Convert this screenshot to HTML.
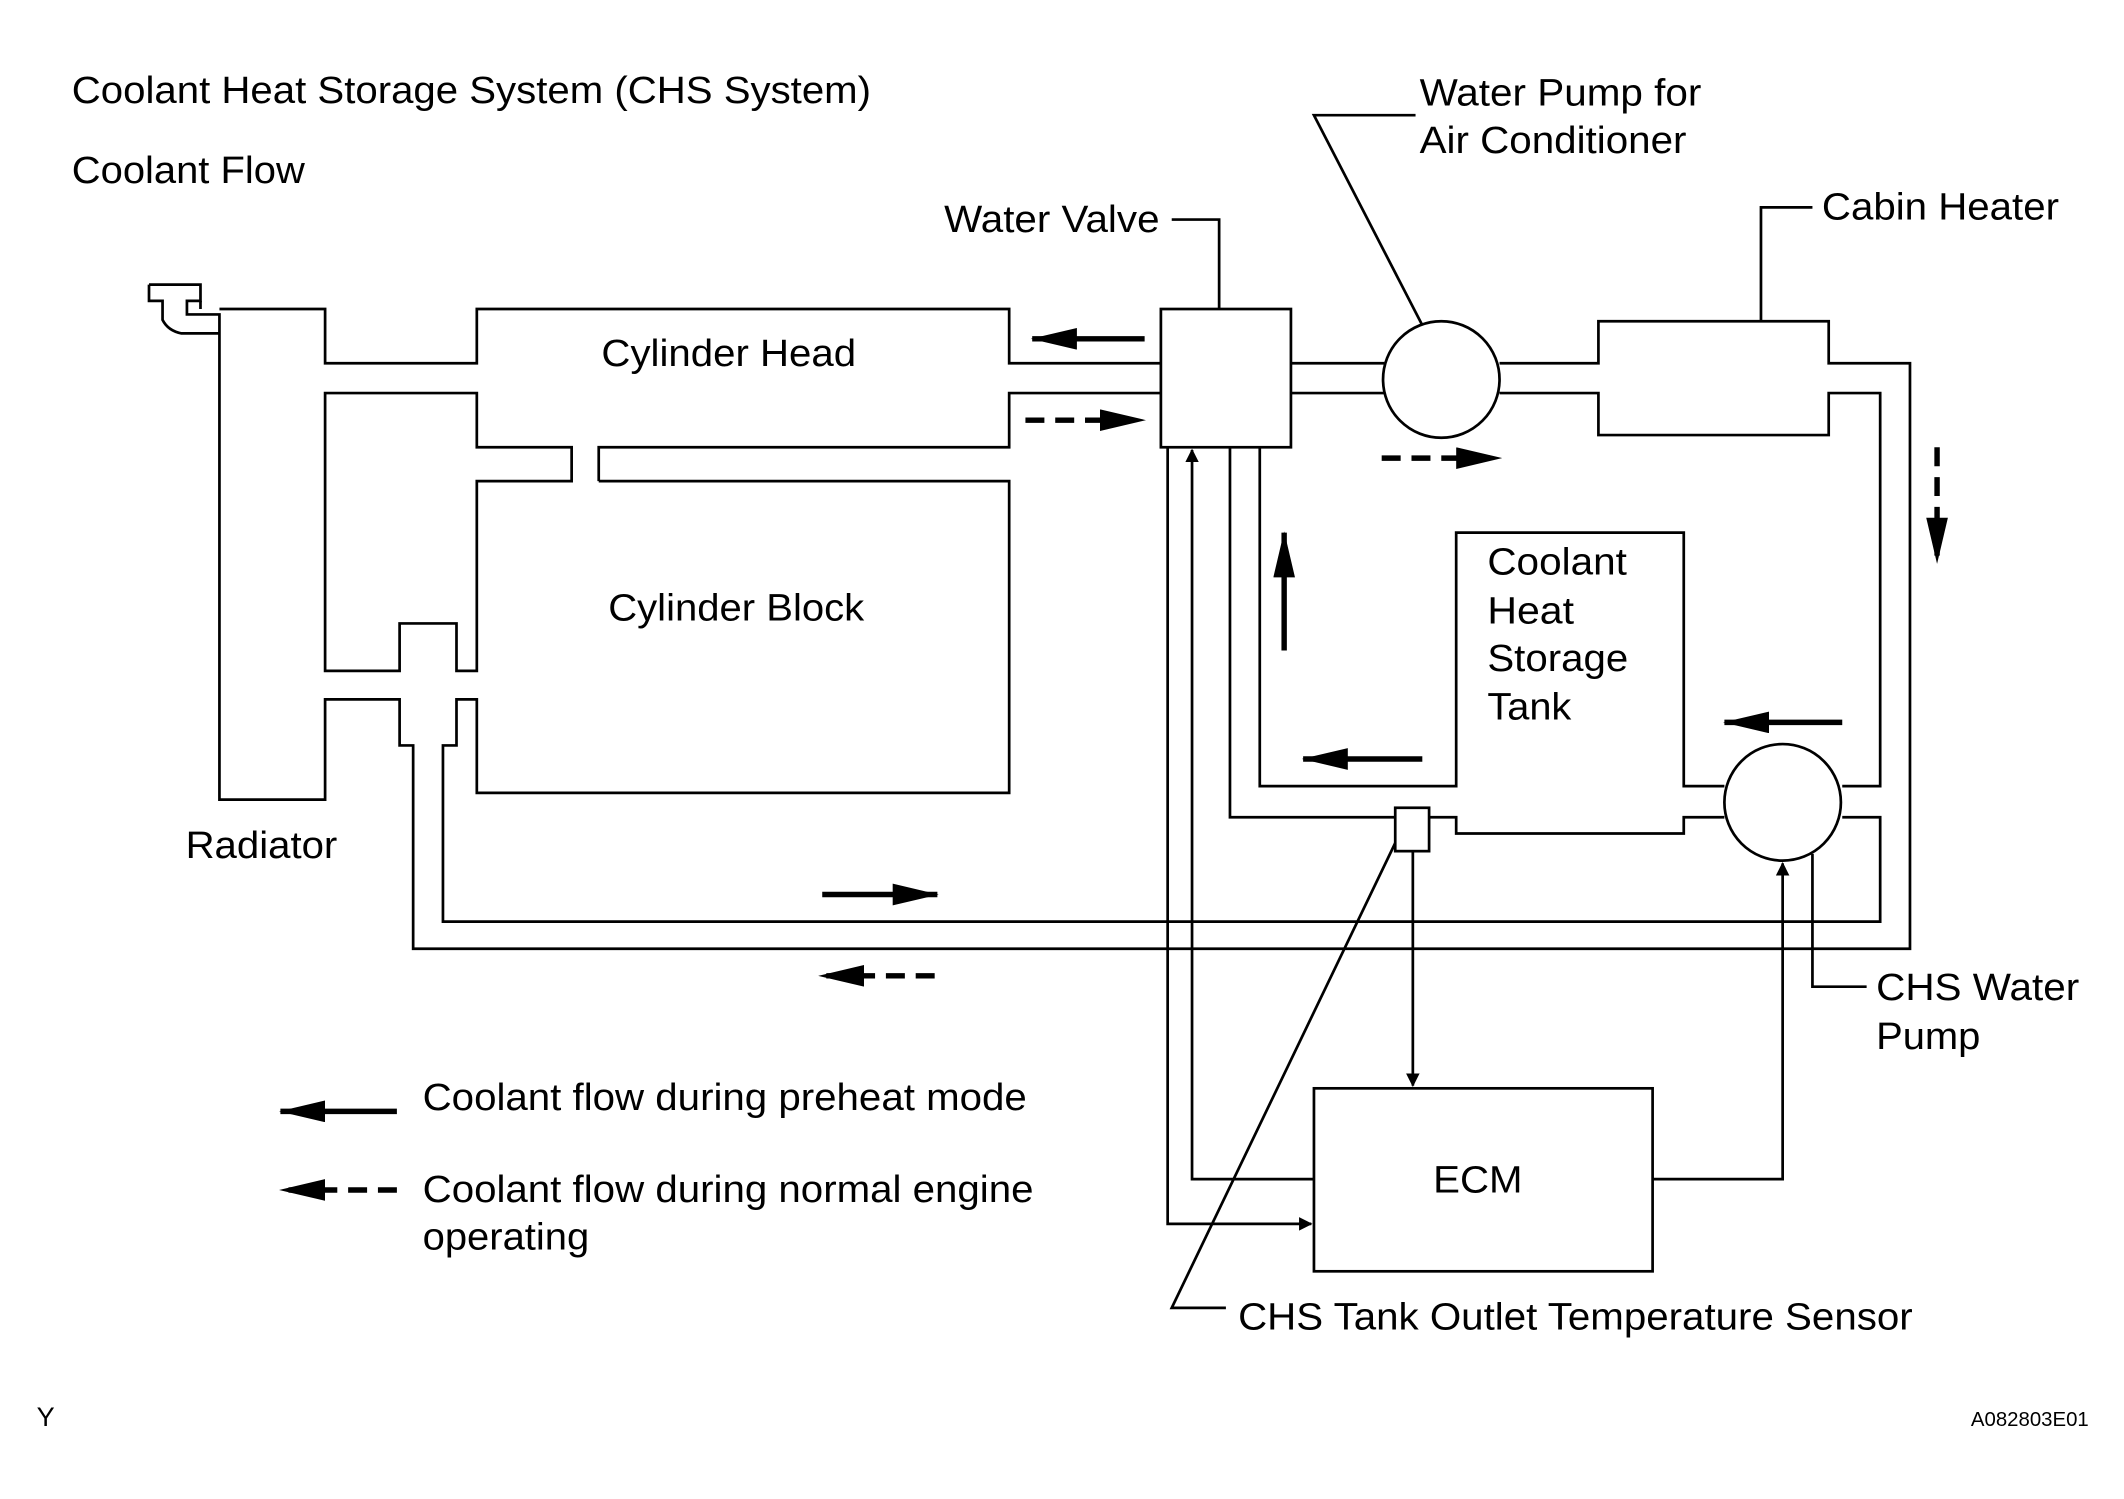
<!DOCTYPE html>
<html><head><style>html,body{margin:0;padding:0;background:#fff}svg{display:block}</style></head><body>
<svg width="2124" height="1499" viewBox="0 0 1568 1106" preserveAspectRatio="none" xmlns="http://www.w3.org/2000/svg" font-family="Liberation Sans, Arial, sans-serif" font-size="28">
<defs>
<marker id="ah" markerWidth="10" markerHeight="10" refX="9" refY="5" orient="auto" markerUnits="userSpaceOnUse"><path d="M0,0 L10,5 L0,10 z" fill="#000"/></marker>
<marker id="big" markerWidth="34" markerHeight="16" refX="33" refY="8" orient="auto" markerUnits="userSpaceOnUse"><path d="M0,0 L34,8 L0,16 z" fill="#000"/></marker>
</defs>
<g fill="none" stroke="#000" stroke-width="2">
<path d="M110,210 H148 V222 H138 V232 H162 V590 H240 V516 H295 V550 H305 V700 H1410 V268 H1350 V237 H1180 V268 H1107"/>
<path d="M148,222 V228 M110,210 V222 H120 V236 Q124,244 134,246 H162"/>
<path d="M162,228 H240 V268 H352 V228 H745 V268 H857"/>
<path d="M240,290 H352 V330 H422 V355 H352 V495 H337 V460 H295 V495 H240 Z"/>
<path d="M442,355 V330 H745 V290 H857"/>
<path d="M442,355 H745 V585 H352 V516 H337 V550 H327 V680 H1388 V603 H1360"/>
<rect x="857" y="228" width="96" height="102"/>
<path d="M953,268 H1022 M953,290 H1022"/>
<circle cx="1064" cy="280" r="43"/>
<path d="M1107,290 H1180 V321 H1350 V290 H1388 V580 H1360"/>
<circle cx="1316" cy="592" r="43"/>
<path d="M1273,580 H1243 V393 H1075 V580 H930 V330"/>
<path d="M908,330 V603 H1030"/>
<rect x="1030" y="596" width="25" height="32"/>
<path d="M1055,603 H1075 V615 H1243 V603 H1273"/>
<rect x="970" y="803" width="250" height="135"/>
<path d="M970,870 H880 V332" marker-end="url(#ah)"/>
<path d="M862,330 V903 H968" marker-end="url(#ah)"/>
<path d="M1043,628 V801" marker-end="url(#ah)"/>
<path d="M1220,870 H1316 V637" marker-end="url(#ah)"/>
<path d="M1030,622 L865,965 H905"/>
<path d="M1338,630 V728 H1378"/>
<path d="M1045,85 H970 L1050,240"/>
<path d="M865,162 H900 V228"/>
<path d="M1338,153 H1300 V237"/>
</g>
<g stroke="#000" stroke-width="4" fill="none">
<path d="M845,250 H762" marker-end="url(#big)"/>
<path d="M757,310 H845" stroke-dasharray="14,8" marker-end="url(#big)"/>
<path d="M1020,338 H1108" stroke-dasharray="14,8" marker-end="url(#big)"/>
<path d="M1430,330 V415" stroke-dasharray="14,8" marker-end="url(#big)"/>
<path d="M948,480 V393" marker-end="url(#big)"/>
<path d="M1050,560 H962" marker-end="url(#big)"/>
<path d="M1360,533 H1273" marker-end="url(#big)"/>
<path d="M607,660 H692" marker-end="url(#big)"/>
<path d="M690,720 H605" stroke-dasharray="14,8" marker-end="url(#big)"/>
<path d="M293,820 H207" marker-end="url(#big)"/>
<path d="M293,878 H207" stroke-dasharray="14,8" marker-end="url(#big)"/>
</g>
<g fill="#000">
<text x="53" y="76" textLength="590" lengthAdjust="spacingAndGlyphs">Coolant Heat Storage System (CHS System)</text>
<text x="53" y="135" textLength="172" lengthAdjust="spacingAndGlyphs">Coolant Flow</text>
<text x="1048" y="78" textLength="208" lengthAdjust="spacingAndGlyphs">Water Pump for</text>
<text x="1048" y="113" textLength="197" lengthAdjust="spacingAndGlyphs">Air Conditioner</text>
<text x="697" y="171" textLength="159" lengthAdjust="spacingAndGlyphs">Water Valve</text>
<text x="1345" y="162" textLength="175" lengthAdjust="spacingAndGlyphs">Cabin Heater</text>
<text x="444" y="270" textLength="188" lengthAdjust="spacingAndGlyphs">Cylinder Head</text>
<text x="449" y="458" textLength="189" lengthAdjust="spacingAndGlyphs">Cylinder Block</text>
<text x="1098" y="424" textLength="103" lengthAdjust="spacingAndGlyphs">Coolant</text>
<text x="1098" y="460" textLength="64" lengthAdjust="spacingAndGlyphs">Heat</text>
<text x="1098" y="495" textLength="104" lengthAdjust="spacingAndGlyphs">Storage</text>
<text x="1098" y="531" textLength="62" lengthAdjust="spacingAndGlyphs">Tank</text>
<text x="137" y="633" textLength="112" lengthAdjust="spacingAndGlyphs">Radiator</text>
<text x="1385" y="738" textLength="150" lengthAdjust="spacingAndGlyphs">CHS Water</text>
<text x="1385" y="774" textLength="77" lengthAdjust="spacingAndGlyphs">Pump</text>
<text x="312" y="819" textLength="446" lengthAdjust="spacingAndGlyphs">Coolant flow during preheat mode</text>
<text x="312" y="887" textLength="451" lengthAdjust="spacingAndGlyphs">Coolant flow during normal engine</text>
<text x="312" y="922" textLength="123" lengthAdjust="spacingAndGlyphs">operating</text>
<text x="1058" y="880" textLength="66" lengthAdjust="spacingAndGlyphs">ECM</text>
<text x="914" y="981" textLength="498" lengthAdjust="spacingAndGlyphs">CHS Tank Outlet Temperature Sensor</text>
<text x="27" y="1052" font-size="20">Y</text>
<text x="1455" y="1052" font-size="15" textLength="87" lengthAdjust="spacingAndGlyphs">A082803E01</text>
</g>
</svg>
</body></html>
